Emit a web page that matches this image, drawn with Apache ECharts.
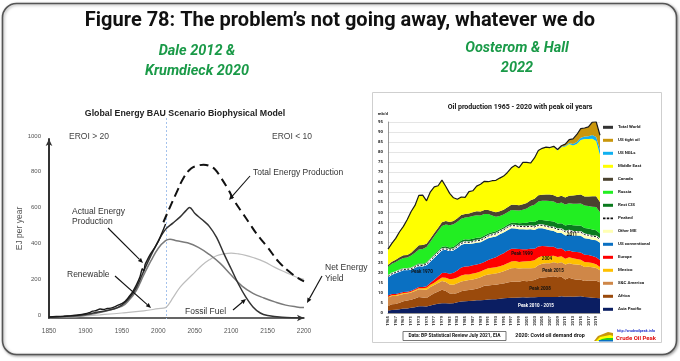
<!DOCTYPE html>
<html><head><meta charset="utf-8">
<script src="https://cdn.jsdelivr.net/npm/echarts@6/dist/echarts.min.js"></script>
<style>html,body{margin:0;padding:0;background:#fff}#c{width:680px;height:361px}</style>
</head><body><div id="c"></div>
<script>
// ---------- Left chart: Global Energy BAU Scenario Biophysical Model ----------
const actualYears = [1850,1860,1870,1880,1890,1900,1905,1910,1915,1920,1925,1930,1935,1940,1945,1950,1955,1960,1965,1970,1975,1978,1980,1982,1985,1988,1990,1995,2000,2005,2010];
const actualVals  = [6,8,10,13,17,24,30,38,42,50,48,53,55,62,72,80,95,120,148,185,232,275,262,300,325,348,362,392,428,475,525];
const fossilYears = [1850,1900,1920,1940,1950,1960,1970,1980,1990,2000,2010,2020,2030,2038,2043,2050,2060,2070,2080,2090,2100,2110,2120,2130,2140,2150,2170,2200];
const fossilVals  = [4,20,35,52,72,110,170,262,350,430,495,530,565,600,618,585,550,512,450,360,275,190,118,62,28,14,4,0];
const netYears = [1850,1900,1950,1960,1970,1980,1990,2000,2010,2016,2025,2040,2055,2070,2085,2100,2115,2130,2145,2160,2175,2190,2200];
const netVals  = [3,15,65,100,155,240,320,390,432,440,432,420,395,355,305,240,178,138,112,90,72,62,58];
const renewYears = [1850,1880,1900,1920,1950,1980,2000,2010,2015,2020,2030,2040,2050,2060,2070,2080,2090,2100,2110,2120,2130,2145,2160,2175,2190,2200];
const renewVals  = [2,6,12,18,28,40,52,58,80,112,172,215,255,295,325,348,358,362,358,350,338,315,283,255,228,216];
const totalYears = [2007,2015,2025,2035,2045,2055,2062,2070,2078,2085,2095,2105,2115,2125,2135,2150,2165,2180,2190,2200];
const totalVals  = [535,610,700,785,835,852,856,850,830,790,725,650,590,530,470,395,315,258,228,205];

// ---------- Right chart: Oil production 1965 - 2020 (mb/d) ----------
const oilYears = ['1965','1966','1967','1968','1969','1970','1971','1972','1973','1974','1975','1976','1977','1978','1979','1980','1981','1982','1983','1984','1985','1986','1987','1988','1989','1990','1991','1992','1993','1994','1995','1996','1997','1998','1999','2000','2001','2002','2003','2004','2005','2006','2007','2008','2009','2010','2011','2012','2013','2014','2015','2016','2017','2018','2019','2020'];
const asiaPacific = [1.3,1.5,1.6,1.9,2.2,2.3,2.6,2.9,3.3,3.4, 3.2,3.7,4.2,4.6,4.9,4.8,4.7,4.9,5.3,5.7, 5.9,6.0,6.1,6.3,6.3,6.5,6.7,6.8,6.9,7.1, 7.3,7.5,7.6,7.6,7.7,7.8,7.7,7.8,7.8,7.9, 7.9,7.9,7.9,8.0,8.0,8.3,8.1,8.2,8.1,8.2, 8.3,8.0,7.8,7.6,7.5,7.3];
const africa = [2.2,2.8,2.9,3.2,3.6,3.9,4.0,4.3,4.6,4.3, 4.3,5.0,5.6,6.1,6.7,6.2,5.0,4.6,4.7,5.1, 5.3,5.4,5.6,5.8,6.4,7.0,7.0,7.1,7.2,7.3, 7.4,7.7,8.0,8.0,7.9,8.2,8.1,8.2,8.6,9.4, 9.8,9.9,10.1,10.3,9.8,9.7,8.6,9.3,8.8,8.4, 8.3,7.9,8.4,8.4,8.5,8.0];
const scAmerica = [4.2,4.1,4.0,3.9,3.7,3.5,3.6,3.7,3.9,4.0, 4.1,4.2,4.1,4.2,4.3,4.4,4.5,4.6,4.8,4.9, 4.9,5.0,5.0,5.0,5.1,5.2,5.4,5.5,5.6,5.8, 6.1,6.3,6.6,6.8,6.5,6.3,6.4,6.3,6.0,6.5, 6.8,6.9,6.8,7.0,7.0,7.3,7.4,7.3,7.4,7.5, 7.3,7.0,6.8,6.8,6.4,6.0];
const mexico = [0.4,0.4,0.4,0.4,0.4,0.4,0.4,0.5,0.5,0.6, 1.0,1.1,1.2,1.5,1.8,2.1,2.6,2.9,2.9,3.0, 3.0,2.8,2.9,2.9,2.9,2.8,3.1,3.1,3.1,3.1, 3.1,3.3,3.4,3.5,3.3,3.3,3.5,3.6,3.8,3.8, 3.8,3.7,3.5,3.2,3.0,2.9,2.9,2.9,2.9,2.8, 2.6,2.5,2.2,2.1,1.9,1.6];
const europe = [0.6,0.6,0.6,0.6,0.6,0.5,0.5,0.5,0.6,0.6, 0.7,1.0,1.5,1.8,2.2,2.5,2.7,3.0,3.5,3.9, 4.0,4.0,4.1,4.1,3.9,3.9,4.2,4.6,4.9,5.6, 5.8,6.2,6.3,6.1,6.4,6.1,6.0,6.1,5.8,5.5, 5.0,4.8,4.6,4.4,4.2,4.0,3.7,3.4,3.3,3.4, 3.6,3.6,3.6,3.5,3.4,3.5];
const usConventional = [9.3,9.9,10.5,10.7,10.9,10.8,10.6,10.7,10.5,10.3, 10.6,10.8,11.0,11.2,11.3,11.4,11.3,11.2,11.2,11.3, 11.4,11.1,10.9,10.9,10.6,10.8,10.8,10.6,10.4,10.3, 10.3,10.2,10.2,10.0,9.9,9.9,9.8,9.7,9.3,9.0, 8.8,8.4,8.2,7.9,7.8,7.6,7.8,8.0,8.1,8.2, 8.3,8.2,8.1,8.0,8.5,8.5];
const otherME = [0.2,0.2,0.2,0.3,0.3,0.3,0.3,0.3,0.4,0.4, 0.4,0.4,0.5,0.5,0.5,0.5,0.5,0.5,0.6,0.7, 0.8,0.8,0.9,1.0,1.0,1.0,1.1,1.2,1.3,1.3, 1.4,1.4,1.4,1.4,1.4,1.4,1.4,1.5,1.5,1.5, 1.5,1.6,1.6,1.7,1.7,1.8,1.9,1.8,1.8,1.8, 1.8,1.8,1.8,1.8,1.8,1.7];
const restCIS = [0.6,0.6,0.6,0.7,0.7,0.7,0.8,0.8,0.9,0.9, 0.9,1.0,1.1,1.2,1.3,1.3,1.3,1.3,1.4,1.4, 1.4,1.4,1.4,1.4,1.3,1.3,1.3,1.3,1.2,1.2, 1.2,1.3,1.4,1.5,1.6,1.8,2.0,2.3,2.5,2.6, 2.6,2.8,3.0,3.0,3.0,3.0,3.1,3.1,3.2,3.2, 3.3,3.3,3.3,3.3,3.2,3.0];
const russia = [4.2,4.4,4.6,4.8,5.0,5.2,5.8,6.3,6.9,7.3, 7.6,8.3,9.0,9.7,10.3,10.8,11.1,11.1,11.0,10.9, 10.8,11.2,11.3,11.2,11.0,10.7,9.6,8.3,7.3,6.6, 6.4,6.2,6.3,6.2,6.3,6.6,7.1,7.7,8.5,9.3, 9.6,9.8,10.0,9.9,10.0,10.4,10.5,10.6,10.8,10.9, 11.0,11.2,11.2,11.4,11.5,10.5];
const canada = [0.9,1.0,1.1,1.2,1.3,1.3,1.4,1.8,2.1,2.0, 1.7,1.6,1.6,1.6,1.8,1.7,1.6,1.6,1.7,1.8, 1.8,1.8,1.9,2.0,2.0,2.0,2.0,2.1,2.2,2.3, 2.4,2.5,2.6,2.7,2.6,2.7,2.7,2.9,3.0,3.1, 3.0,3.2,3.3,3.2,3.2,3.3,3.5,3.7,4.0,4.3, 4.4,4.5,4.8,5.2,5.4,5.1];
const middleEast = [7.9,9.1,10.6,12.7,14.4,17.6,20.5,21.7,24.8,24.8, 21.3,23.2,22.9,20.9,21.0,17.2,14.2,11.6,9.5,9.0, 8.2,10.9,10.7,12.5,13.5,14.3,14.1,15.2,15.9,16.5, 16.7,17.3,18.4,19.7,18.7,20.8,20.2,18.5,20.3,22.2, 23.1,23.5,23.3,24.0,23.1,24.1,25.3,25.7,24.9,25.4, 27.2,28.6,28.5,28.6,27.4,23.4];
const usNGLs = [0,0,0,0,0,0,0,0,0,0, 0,0,0,0,0,0,0,0,0,0, 0,0,0,0,0,0,0,0,0,0, 0,0,0,0,0,0,0,0,0,0, 0,0,0,0.1,0.2,0.3,0.4,0.6,0.7,0.9, 1.1,1.2,1.4,1.8,2.1,2.6];
const usTightOil = [0,0,0,0,0,0,0,0,0,0, 0,0,0,0,0,0,0,0,0,0, 0,0,0,0,0,0,0,0,0,0, 0,0,0,0,0,0,0,0,0,0, 0,0,0,0.2,0.3,0.5,0.8,1.6,2.6,3.8, 4.5,4.2,4.7,6.4,7.6,7.2];
const totalWorld = [31.8,34.6,37.1,40.4,43.1,46.5,50.5,53.5,58.5,58.6, 55.8,60.3,62.7,63.3,66.1,62.9,59.5,57.3,56.6,57.7, 57.5,60.4,60.8,63.1,64.0,65.5,65.3,65.8,66.0,67.1, 68.1,69.9,72.2,73.5,72.3,74.9,74.9,74.6,77.1,80.8, 81.9,82.5,82.3,82.9,81.3,83.2,84.0,86.2,86.6,88.8, 91.7,92.0,92.6,94.9,95.2,88.4];

const legendNames = ['Total World','US tight oil','US NGLs','Middle East','Canada','Russia','Rest CIS','Peaked','Other ME','US conventional','Europe','Mexico','S&C America','Africa','Asia Pacific'];

// ---------- build ----------
const chart = echarts.init(document.getElementById('c'), null, {renderer:'canvas'});
const pair = (xs, ys) => xs.map((x, i) => [x, ys[i]]);

const stackDefs = [
  ['Asia Pacific', asiaPacific, '#0b1e62'],
  ['Africa', africa, '#9a4a0c'],
  ['S&C America', scAmerica, '#cf8748'],
  ['Mexico', mexico, '#ffc000'],
  ['Europe', europe, '#ff0000'],
  ['US conventional', usConventional, '#0a70c2'],
  ['Other ME', otherME, '#ffffb4'],
  ['Rest CIS', restCIS, '#0a7a1e'],
  ['Russia', russia, '#22ee22'],
  ['Canada', canada, '#4b4330'],
  ['Middle East', middleEast, '#ffff00'],
  ['US NGLs', usNGLs, '#10b0f0'],
  ['US tight oil', usTightOil, '#c9960c']
];
// boundary of peaked regions = cumulative top of Other ME
const peakedLayers = [asiaPacific, africa, scAmerica, mexico, europe, usConventional, otherME];
const peakedLine = oilYears.map((_, i) => +peakedLayers.reduce((s, a) => s + a[i], 0).toFixed(2));

const FL = 'Liberation Sans, Arial, sans-serif';
const FR = 'Roboto, sans-serif';

const series = [];
const lineBase = {type:'line', xAxisIndex:0, yAxisIndex:0, symbol:'none', silent:true, animation:false, z:3};
series.push(Object.assign({}, lineBase, {name:'Renewable', data:pair(renewYears, renewVals), smooth:0.4, lineStyle:{color:'#bdbdbd', width:1.2}}));
series.push(Object.assign({}, lineBase, {name:'Net Energy Yield', data:pair(netYears, netVals), smooth:0.4, lineStyle:{color:'#7a7a7a', width:1.5}}));
series.push(Object.assign({}, lineBase, {name:'Fossil Fuel', data:pair(fossilYears, fossilVals), smooth:0.35, lineStyle:{color:'#333', width:1.5}}));
series.push(Object.assign({}, lineBase, {name:'Actual Energy Production', data:pair(actualYears, actualVals), smooth:0.2, lineStyle:{color:'#1a1a1a', width:1.4}}));
series.push(Object.assign({}, lineBase, {name:'Total Energy Production', data:pair(totalYears, totalVals), smooth:0.4, lineStyle:{color:'#111', width:2, type:[9,5]}}));

stackDefs.forEach(([name, arr, col]) => {
  series.push({type:'line', name, data:arr, xAxisIndex:1, yAxisIndex:1, stack:'oil', symbol:'none', silent:true, animation:false,
    lineStyle:{width:0, color:col}, itemStyle:{color:col}, areaStyle:{color:col, opacity:1}, z:2});
});
series.push({type:'line', name:'_peakedBg', data:peakedLine, xAxisIndex:1, yAxisIndex:1, symbol:'none', silent:true, animation:false,
  lineStyle:{width:2, color:'#ffffff'}, itemStyle:{color:'#fff'}, z:4});
series.push({type:'line', name:'Peaked', data:peakedLine, xAxisIndex:1, yAxisIndex:1, symbol:'none', silent:true, animation:false,
  lineStyle:{width:1, color:'#111', type:[2,1.5]}, itemStyle:{color:'#111'}, z:5});
series.push({type:'line', name:'Total World', data:totalWorld, xAxisIndex:1, yAxisIndex:1, symbol:'none', silent:true, animation:false,
  lineStyle:{width:1.2, color:'#1a1a1a'}, itemStyle:{color:'#333'}, z:6});

const legendData = legendNames.map(n => n === 'Peaked'
  ? {name:n, icon:'path://M0,0h3v2h-3zM4.5,0h3v2h-3zM9,0h3v2h-3z'}
  : {name:n});

const plain = v => String(v);

const option = {
  backgroundColor:'#ffffff',
  animation:false,
  grid:[
    {left:49, top:139, width:255, height:179},
    {left:388, top:122, width:212, height:191}
  ],
  xAxis:[
    {type:'value', gridIndex:0, min:1850, max:2200, interval:50,
     axisLine:{show:true, onZero:false, symbol:['none','arrow'], symbolSize:[5,7], lineStyle:{color:'#333', width:1.5}},
     axisTick:{show:false}, splitLine:{show:false},
     axisLabel:{fontSize:6.5, color:'#555', margin:10, fontFamily:FL, formatter:plain}},
    {type:'category', gridIndex:1, data:oilYears, boundaryGap:false,
     axisLine:{show:true, lineStyle:{color:'#7f7f7f', width:0.8}}, axisTick:{show:false},
     axisLabel:{interval:1, rotate:90, fontSize:4.3, fontWeight:'bold', color:'#222', margin:3, fontFamily:FR}}
  ],
  yAxis:[
    {type:'value', gridIndex:0, min:0, max:1000, interval:200,
     axisLine:{show:true, symbol:['none','arrow'], symbolSize:[5,7], lineStyle:{color:'#333', width:2}},
     axisTick:{show:false}, splitLine:{show:false},
     axisLabel:{fontSize:6, color:'#555', margin:8, verticalAlign:'bottom', fontFamily:FL, formatter:plain},
     name:'EJ per year', nameLocation:'middle', nameRotate:90, nameGap:21,
     nameTextStyle:{fontSize:8.5, color:'#555', fontFamily:FL}},
    {type:'value', gridIndex:1, min:0, max:95, interval:5,
     axisLine:{show:true, lineStyle:{color:'#7f7f7f', width:0.8}}, axisTick:{show:false},
     splitLine:{show:true, lineStyle:{color:'#d4d4d4', width:0.6}},
     axisLabel:{fontSize:4.3, fontWeight:'bold', color:'#222', margin:5, fontFamily:FR},
     name:'mb/d', nameLocation:'end', nameGap:6,
     nameTextStyle:{fontSize:4.3, fontWeight:'bold', color:'#222', align:'right', fontFamily:FR}}
  ],
  legend:{
    data:legendData, orient:'vertical', left:603, top:124.8, itemWidth:10, itemHeight:3, itemGap:8,
    icon:'rect', selectedMode:false, padding:0,
    textStyle:{fontSize:4.4, fontWeight:'bold', color:'#222', lineHeight:5, fontFamily:FR}
  },
  series
};
chart.setOption(option);

// ---------- annotations & frame ----------
function txt(x, y, text, font, fill, align) {
  return {type:'text', x, y, z:100, silent:true,
    style:{text, font, fill, textAlign:align||'left', align:align||'left', textVerticalAlign:'middle', verticalAlign:'middle'}};
}
function arrow(x1, y1, x2, y2) {
  const a = Math.atan2(y2 - y1, x2 - x1), L = 5, W = 2.2;
  const bx = x2 - L * Math.cos(a), by = y2 - L * Math.sin(a);
  const px = -Math.sin(a) * W, py = Math.cos(a) * W;
  return [
    {type:'line', z:100, silent:true, shape:{x1, y1, x2:bx, y2:by}, style:{stroke:'#111', lineWidth:1.1}},
    {type:'polygon', z:100, silent:true, shape:{points:[[x2, y2], [bx + px, by + py], [bx - px, by - py]]}, style:{fill:'#111'}}
  ];
}
const vx = Math.round(chart.convertToPixel({xAxisIndex:0, yAxisIndex:0}, [2010, 0])[0]) + 0.5;
const G = '#1a9a48';
const AF = '8.5px ' + FL;
const LBL = 'bold 4.5px ' + FR;
const SUB = 'italic bold 14.5px ' + FR;
const elements = [
  {type:'rect', z:-10, silent:true, shape:{x:2.5, y:3.5, width:674, height:351, r:14},
   style:{fill:'#fff', stroke:'#555', lineWidth:1.6, shadowBlur:3, shadowOffsetX:1, shadowOffsetY:1, shadowColor:'rgba(0,0,0,0.35)'}},
  {type:'rect', z:-5, silent:true, shape:{x:372.5, y:92.5, width:289, height:250}, style:{fill:'#fff', stroke:'#cfcfcf', lineWidth:1}},
  txt(340, 21, 'Figure 78: The problem’s not going away, whatever we do', 'bold 20px ' + FR, '#111', 'center'),
  txt(197, 51, 'Dale 2012 &', SUB, G, 'center'),
  txt(197, 71, 'Krumdieck 2020', SUB, G, 'center'),
  txt(517, 48, 'Oosterom & Hall', SUB, G, 'center'),
  txt(517, 68, '2022', SUB, G, 'center'),
  // left chart
  txt(185, 114, 'Global Energy BAU Scenario Biophysical Model', 'bold 8.8px ' + FL, '#222', 'center'),
  {type:'line', z:1, silent:true, shape:{x1:vx, y1:118, x2:vx, y2:319}, style:{stroke:'#a4c2ec', lineWidth:1, lineDash:[2,2]}},
  txt(69, 137, 'EROI > 20', AF, '#444'),
  txt(272, 137, 'EROI < 10', AF, '#444'),
  txt(72, 212, 'Actual Energy', AF, '#333'),
  txt(72, 221.5, 'Production', AF, '#333'),
  txt(253, 173, 'Total Energy Production', AF, '#333'),
  txt(67, 275, 'Renewable', AF, '#333'),
  txt(185, 312, 'Fossil Fuel', AF, '#333'),
  txt(325, 268, 'Net Energy', AF, '#333'),
  txt(325, 279, 'Yield', AF, '#333'),
  ...arrow(108, 228, 143, 263),
  ...arrow(250, 176, 229, 200),
  ...arrow(115, 276, 151, 308),
  ...arrow(233, 310, 246, 299),
  ...arrow(322, 276, 307, 303),
  // right chart
  txt(520, 107, 'Oil production 1965 - 2020 with peak oil years', 'bold 7px ' + FR, '#111', 'center'),
  txt(422, 272, 'Peak 1970', LBL, '#111', 'center'),
  txt(522, 254, 'Peak 1999', LBL, '#111', 'center'),
  txt(547, 259, '2004', LBL, '#111', 'center'),
  txt(553, 271, 'Peak 2015', LBL, '#111', 'center'),
  txt(540, 289, 'Peak 2008', LBL, '#111', 'center'),
  txt(536, 305.5, 'Peak 2010 - 2015', LBL, '#fff', 'center'),
  txt(572, 235, '2011', LBL, '#111', 'center'),
  {type:'rect', z:100, silent:true, shape:{x:403, y:331.5, width:103, height:9}, style:{fill:'#fff', stroke:'#555', lineWidth:0.8}},
  txt(454.5, 336, 'Data: BP Statistical Review July 2021, EIA', 'bold 4.9px ' + FR, '#111', 'center'),
  txt(550, 336, '2020: Covid oil demand drop', 'bold 5.4px ' + FR, '#111', 'center'),
  {type:'polygon', z:100, silent:true, shape:{points:[[594,341],[598,336],[603,334],[608,332],[613,333],[613,341]]}, style:{fill:'#c9960c'}},
  {type:'polygon', z:101, silent:true, shape:{points:[[596,341],[600,337],[605,336],[610,335],[613,336],[613,341]]}, style:{fill:'#ffff00'}},
  {type:'polygon', z:102, silent:true, shape:{points:[[598,341],[602,339],[607,338],[613,338],[613,341]]}, style:{fill:'#22cc22'}},
  {type:'rect', z:103, silent:true, shape:{x:599, y:340, width:14, height:1.5}, style:{fill:'#0a70c2'}},
  txt(636, 331.5, 'http://crudeoilpeak.info', 'bold 3.6px ' + FR, '#2233cc', 'center'),
  txt(636, 338.5, 'Crude Oil Peak', 'bold 6px ' + FR, '#e01010', 'center')
];
chart.setOption({graphic:{elements}});
</script>
</body></html>
